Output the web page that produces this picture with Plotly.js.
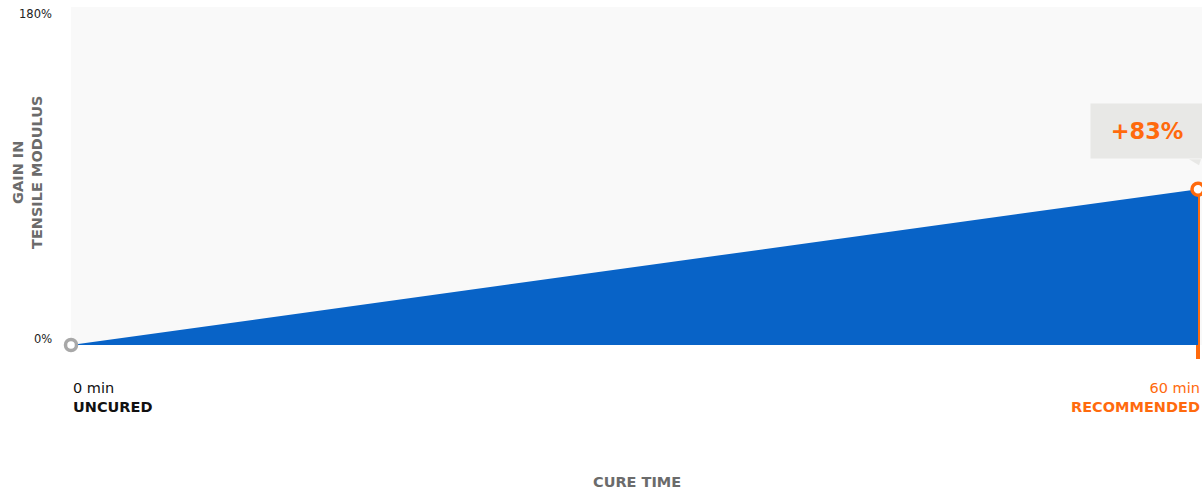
<!DOCTYPE html>
<html>
<head>
<meta charset="utf-8">
<script src="https://cdn.plot.ly/plotly-3.0.1.min.js"></script>
<style>html,body{margin:0;padding:0;background:#fff;}#chart{width:1202px;height:491px;}</style>
</head>
<body>
<div id="chart"></div>
<script>
// ---- data ----
const cureTimes = [0, 60];                 // minutes
const gainPct = [0, 83];                   // % gain in tensile modulus
const yTickVals = [0, 180];
const yTickLabels = ['0%', '180%'];
const xTimeLabels = ['0 min', '60 min'];
const xStateLabels = ['UNCURED', 'RECOMMENDED'];
const calloutText = '+83%';
const xTitle = 'CURE TIME';
const yTitleLines = ['GAIN IN', 'TENSILE MODULUS'];

// ---- styles ----
const BLUE = '#0863c7';
const ORANGE = '#ff6a0d';
const GREY_MARK = '#a8a8a8';
const FONT = '"DejaVu Sans", "Open Sans", sans-serif';

const last = cureTimes.length - 1;

const traces = [
  {
    x: cureTimes, y: gainPct, type: 'scatter', mode: 'lines',
    fill: 'tozeroy', fillcolor: BLUE,
    line: {color: BLUE, width: 0}, hoverinfo: 'skip', showlegend: false
  },
  {
    x: [cureTimes[0]], y: [gainPct[0]], type: 'scatter', mode: 'markers',
    marker: {size: 11, color: '#ffffff', line: {color: GREY_MARK, width: 3.5}},
    cliponaxis: false, hoverinfo: 'skip', showlegend: false
  },
  {
    x: [cureTimes[last]], y: [gainPct[last]], type: 'scatter', mode: 'markers',
    marker: {size: 12, color: '#ffffff', line: {color: ORANGE, width: 3.5}},
    cliponaxis: false, hoverinfo: 'skip', showlegend: false
  }
];

const plotTop = 7, plotH = 338;
const yMax = yTickVals[yTickVals.length - 1];
const pxPerUnit = plotH / yMax;

const annotations = [];
// y tick labels (drawn just inside the range ends)
yTickVals.forEach((v, i) => {
  annotations.push({
    xref: 'paper', yref: 'y', x: 0, y: v, xanchor: 'right',
    yanchor: i === 0 ? 'bottom' : 'top', xshift: -17,
    yshift: i === 0 ? -3 : 2,
    text: yTickLabels[i], showarrow: false,
    font: {family: FONT, size: 11.5, color: '#222'}
  });
});
// x labels
annotations.push({
  xref: 'x', yref: 'y', x: cureTimes[0], y: 0, xanchor: 'left', yanchor: 'top',
  yshift: -33, xshift: 0, align: 'left', showarrow: false,
  text: xTimeLabels[0] + '<br><b>' + xStateLabels[0] + '</b>',
  font: {family: FONT, size: 14.5, color: '#111'}
});
annotations.push({
  xref: 'x', yref: 'y', x: cureTimes[last], y: 0, xanchor: 'right', yanchor: 'top',
  yshift: -33, xshift: 4, align: 'right', showarrow: false,
  text: xTimeLabels[1] + '<br><b>' + xStateLabels[1] + '</b>',
  font: {family: FONT, size: 14.5, color: ORANGE}
});
// callout
annotations.push({
  xref: 'x', yref: 'y', x: cureTimes[last], y: gainPct[last],
  xanchor: 'center', yanchor: 'bottom', xshift: -51, yshift: 30,
  width: 112, height: 54, bgcolor: '#e8e8e6', borderpad: 0,
  text: '<b>' + calloutText + '</b>', showarrow: false,
  font: {family: FONT, size: 22.5, color: ORANGE}
});
// axis titles
annotations.push({
  xref: 'paper', yref: 'paper', x: 0.5, y: 0, xanchor: 'center', yanchor: 'top',
  yshift: -127, text: '<b>' + xTitle + '</b>', showarrow: false,
  font: {family: FONT, size: 14.5, color: '#6b6b6b'}
});
annotations.push({
  xref: 'paper', yref: 'paper', x: 0, y: 0.5, xanchor: 'center', yanchor: 'middle',
  xshift: -44, yshift: 3, textangle: -90, text: '<b>' + yTitleLines.join('<br>') + '</b>',
  showarrow: false, font: {family: FONT, size: 14.5, color: '#6b6b6b'}
});

const layout = {
  width: 1202, height: 491,
  margin: {l: 71, r: 0, t: plotTop, b: 491 - plotTop - plotH, pad: 0},
  paper_bgcolor: '#ffffff', plot_bgcolor: '#f9f9f9',
  showlegend: false,
  xaxis: {range: [cureTimes[0], cureTimes[last] * 1131 / 1127], showgrid: false,
          zeroline: false, showticklabels: false, ticks: '', showline: false, fixedrange: true},
  yaxis: {range: [0, yMax], showgrid: false, zeroline: false, showticklabels: false,
          ticks: '', showline: false, fixedrange: true},
  shapes: [
    {type: 'line', xref: 'x', yref: 'paper', x0: cureTimes[last], x1: cureTimes[last],
     y0: -14 / plotH, y1: gainPct[last] / yMax, line: {color: ORANGE, width: 4}, layer: 'below'},
    {type: 'path', xref: 'x', yref: 'y',
     path: (() => {
       const xPerPx = (cureTimes[last] * 1131 / 1127) / 1131;
       const x = cureTimes[last], y = gainPct[last];
       const yb = y + 30 / pxPerUnit, yt = y + 24 / pxPerUnit;
       return `M ${x - 9 * xPerPx} ${yb} L ${x + 3 * xPerPx} ${yb} L ${x + 1 * xPerPx} ${yt} Z`;
     })(),
     fillcolor: '#e8e8e6', line: {width: 0}, layer: 'above'}
  ],
  annotations: annotations,
  font: {family: FONT}
};

Plotly.newPlot('chart', traces, layout, {displayModeBar: false, staticPlot: true});
</script>
</body>
</html>
